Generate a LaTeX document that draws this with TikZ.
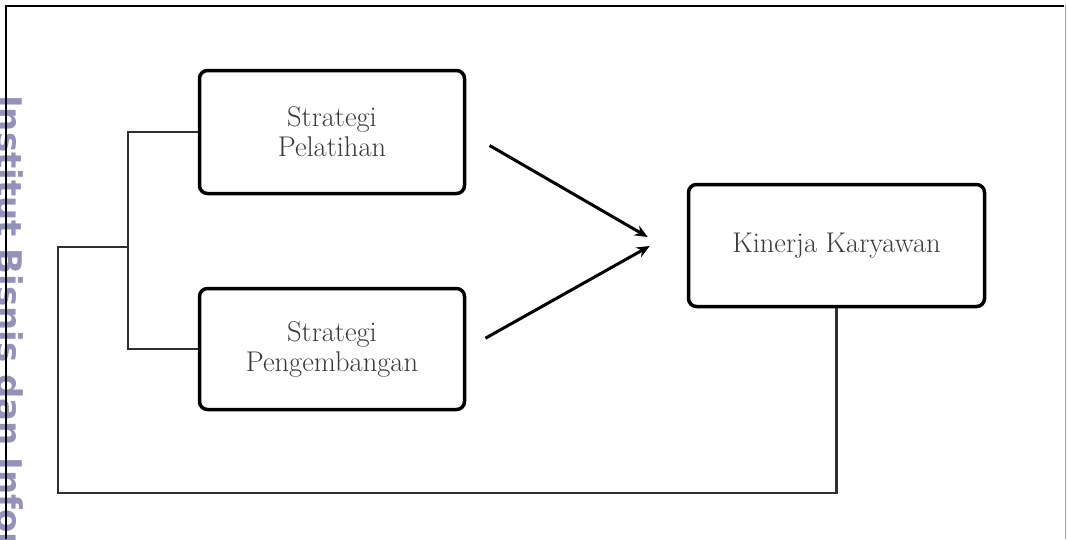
\documentclass[tikz,border=0pt]{standalone}
\usepackage{fontspec}
\usepackage{tikz}
\usetikzlibrary{arrows.meta, positioning, calc}
\newfontfamily\markfont{DejaVu Sans Bold}
\definecolor{MarkBlue}{RGB}{146,146,186}
\definecolor{LineGray}{RGB}{48,48,48}
\definecolor{TextGray}{RGB}{58,58,58}

\begin{document}
\begin{tikzpicture}[>={Stealth[length=13pt, width=11pt]}, x=1pt, y=-1pt,
    varbox/.style={draw=black, line width=3.5pt, rounded corners=8pt, align=center,
        text=TextGray, font=\fontsize{28.5}{30}\selectfont},
    link/.style={draw=LineGray, line width=2.5pt},
    effect/.style={->, black, line width=3pt, shorten <=27pt}]
        \useasboundingbox (0,0) rectangle (1067,539);
        % Watermark on the left edge
        \node [rotate=-90, anchor=base west, inner sep=0, text=MarkBlue,
            font=\markfont\fontsize{34}{34}\selectfont] (mark) at (-2,95) {Institut Bisnis dan Informatika};
        % Page frame
        \draw [black, line width=2pt] (6,539) -- (6,6) -- (1064,6);
        \draw [gray!70, line width=1.5pt] (1065.5,5) -- (1065.5,539);
        % Variables
        \node [varbox, minimum width=265pt, minimum height=123pt] (pelatihan) at (332,132) {Strategi\\Pelatihan};
        \node [varbox, minimum width=265pt, minimum height=121pt] (pengembangan) at (332,349) {Strategi\\Pengembangan};
        \node [varbox, minimum width=296pt, minimum height=122pt] (kinerja) at (836.5,245.5) {Kinerja Karyawan};
        % Effect arrows
        \coordinate (tipA) at ($(kinerja.west)+(-39,-8.5)$);
        \coordinate (tipB) at ($(kinerja.west)+(-37,0.5)$);
        \draw [effect] (pelatihan.east) -- (tipA);
        \draw [effect, shorten <=22pt] (pengembangan.east) -- (tipB);
        % Bracket and feedback line
        \coordinate (split) at (128,247);
        \draw [link] (pelatihan.west) -- ++(-70,0) |- (pengembangan.west);
        \draw [link] (split) -- ++(-70,0) -- ++(0,246) -| (kinerja.south);
    \end{tikzpicture}
\end{document}
